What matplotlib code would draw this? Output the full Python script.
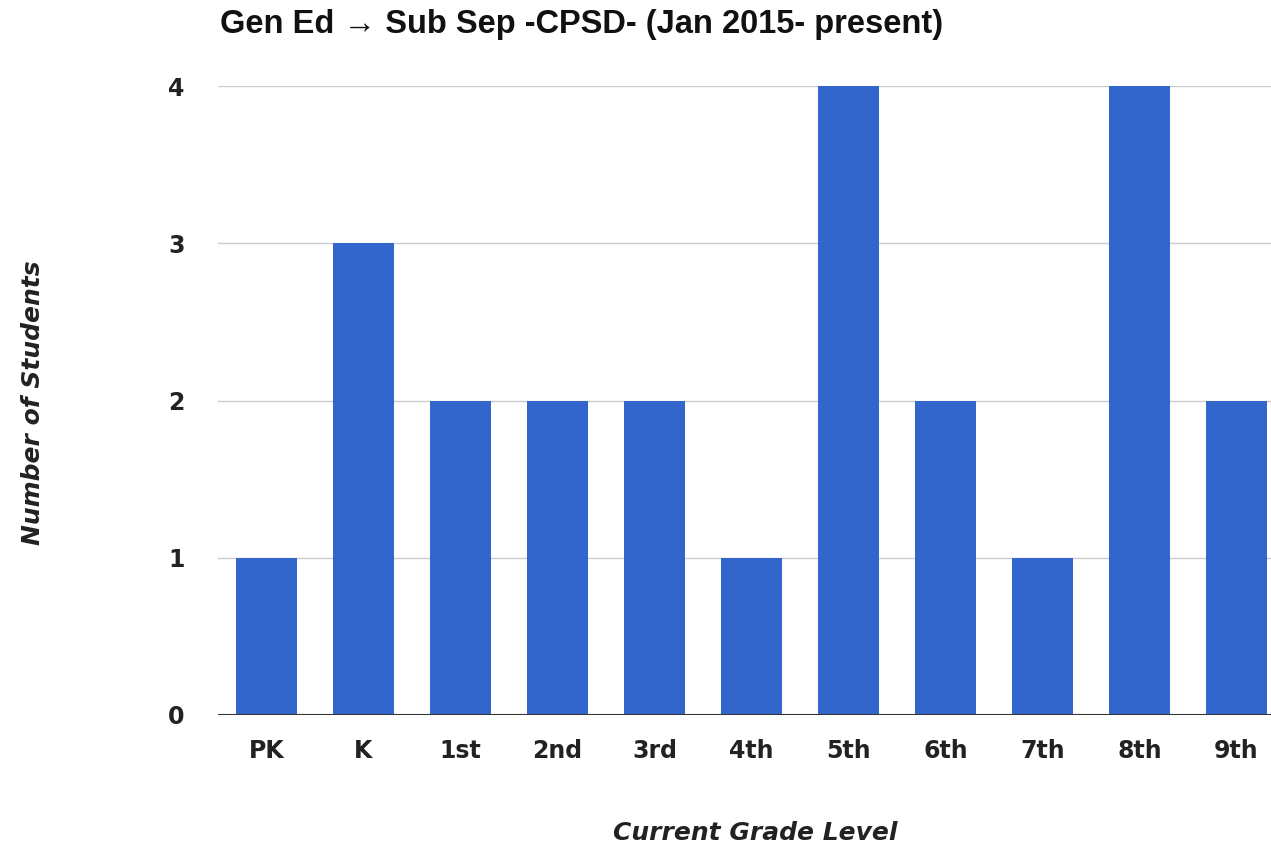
import matplotlib
matplotlib.use("Agg")
import matplotlib.pyplot as plt

grades = ["PK", "K", "1st", "2nd", "3rd", "4th", "5th", "6th", "7th", "8th", "9th"]
students = [1, 3, 2, 2, 2, 1, 4, 2, 1, 4, 2]
yticks = [0, 1, 2, 3, 4]

W, H = 1271, 851
fig = plt.figure(figsize=(W / 100, H / 100), dpi=100)
ax = fig.add_axes([218 / W, 1 - 715 / H, (W - 218) / W, (715 - 86) / H])

x = list(range(len(grades)))
ax.bar(x, students, width=0.63, color="#3366cc", zorder=3)
ax.set_xlim(-0.5, (W - 218) / 97 - 0.5)
ax.set_ylim(0, 4)
ax.set_yticks(yticks)
ax.set_xticks(x)
ax.set_xticklabels(grades)
ax.grid(axis="y", color="#cccccc", linewidth=1, zorder=0)
ax.axhline(0, color="#333333", linewidth=1.5, zorder=4)
for s in ax.spines.values():
    s.set_visible(False)
ax.tick_params(axis="both", length=0, labelsize=17, labelcolor="#222222")
ax.tick_params(axis="y", pad=24)
ax.tick_params(axis="x", pad=17)
for lab in ax.get_xticklabels() + ax.get_yticklabels():
    lab.set_fontfamily("DejaVu Sans")
    lab.set_fontweight("bold")

fig.text(220 / W, 1 - 25 / H, "Gen Ed \u2192 Sub Sep -CPSD- (Jan 2015- present)",
         fontsize=23.5, fontweight="bold", family=["Liberation Sans", "DejaVu Sans"],
         ha="left", va="center", color="#111111")
fig.text(33 / W, 1 - 403 / H, "Number of Students", rotation=90, fontsize=18,
         fontweight="bold", style="italic", family="DejaVu Sans",
         ha="center", va="center", color="#222222")
fig.text(755 / W, 1 - 833 / H, "Current Grade Level", fontsize=18,
         fontweight="bold", style="italic", family="DejaVu Sans",
         ha="center", va="center", color="#222222")

fig.savefig("out.png", dpi=100)
